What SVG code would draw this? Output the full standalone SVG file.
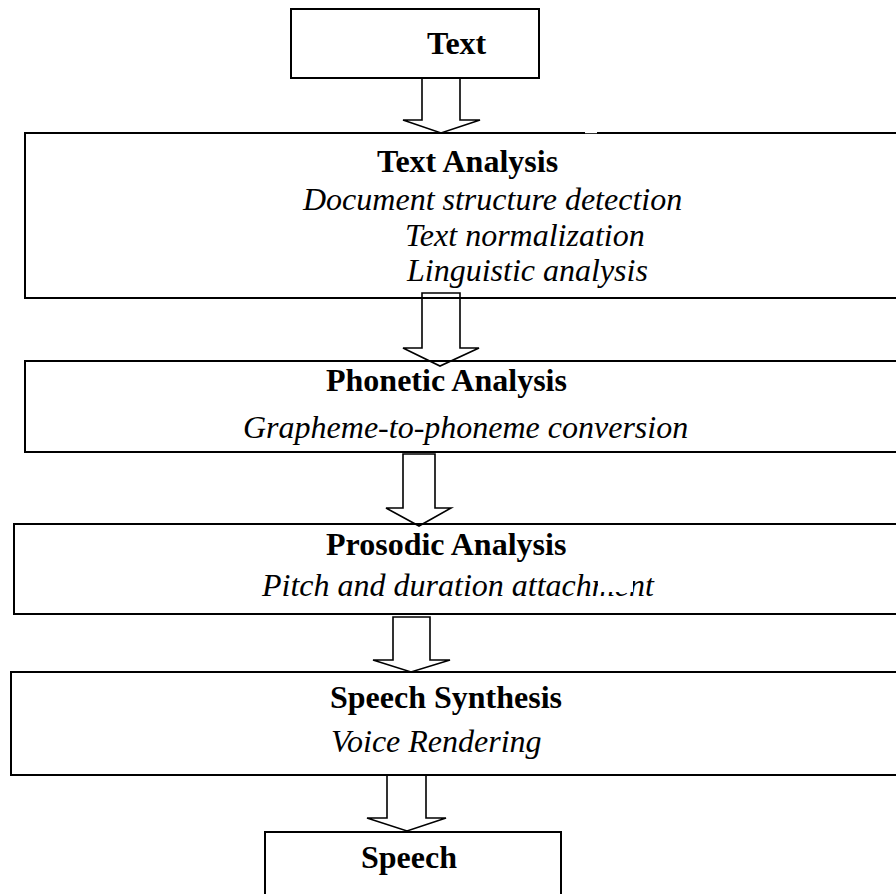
<svg xmlns="http://www.w3.org/2000/svg" width="896" height="894" viewBox="0 0 896 894">
<style>
.box{fill:none;stroke:#000;stroke-width:2}
.arr{fill:#fff;stroke:#000;stroke-width:1.6;stroke-linejoin:miter}
.h{font-family:"Liberation Serif","Times New Roman",serif;font-weight:bold;font-size:32px;fill:#000}
.i{font-family:"Liberation Serif","Times New Roman",serif;font-style:italic;font-size:32px;fill:#000}
</style>
<rect x="0" y="0" width="896" height="894" fill="#fff"/>
<g id="connectors">
<polygon class="arr" points="422,78 422,120 403,120 441,133 480,120 460,120 460,78"/>
<polygon class="arr" points="422,293 422,348 403,348 440,366 479,348 460,348 460,293"/>
<polygon class="arr" points="403,454 403,508 386,508 419,526 451,508 435,508 435,454"/>
<polygon class="arr" points="393,617 393,660 373,660 411,672 450,660 430,660 430,617"/>
<polygon class="arr" points="387,775 387,818 367,818 407,831 446,818 426,818 426,775"/>
</g>
<g id="text">
<rect class="box" x="291" y="9" width="248" height="69"/>
<text class="h" x="427" y="54">Text</text>
</g>
<g id="text-analysis">
<rect class="box" x="25" y="133" width="900" height="165"/>
<rect x="585" y="131" width="12" height="2.2" fill="#fff"/>
<text class="h" x="377" y="172">Text Analysis</text>
<text class="i" x="303" y="210">Document structure detection</text>
<text class="i" x="405" y="246">Text normalization</text>
<text class="i" x="407" y="281">Linguistic analysis</text>
</g>
<g id="phonetic-analysis">
<rect class="box" x="25" y="361" width="900" height="91"/>
<text class="h" x="326" y="391">Phonetic Analysis</text>
<text class="i" x="243" y="438">Grapheme-to-phoneme conversion</text>
</g>
<g id="prosodic-analysis">
<rect class="box" x="14" y="524" width="900" height="90"/>
<text class="h" x="326" y="555">Prosodic Analysis</text>
<text class="i" x="262" y="596">Pitch and duration attachment</text>
<rect x="598" y="568" width="35" height="24" fill="#fff"/>
</g>
<g id="speech-synthesis">
<rect class="box" x="11" y="672" width="900" height="103"/>
<text class="h" x="330" y="708">Speech Synthesis</text>
<text class="i" x="331" y="752">Voice Rendering</text>
</g>
<g id="speech">
<rect class="box" x="265" y="832" width="296" height="80"/>
<text class="h" x="361" y="868">Speech</text>
</g>
</svg>
